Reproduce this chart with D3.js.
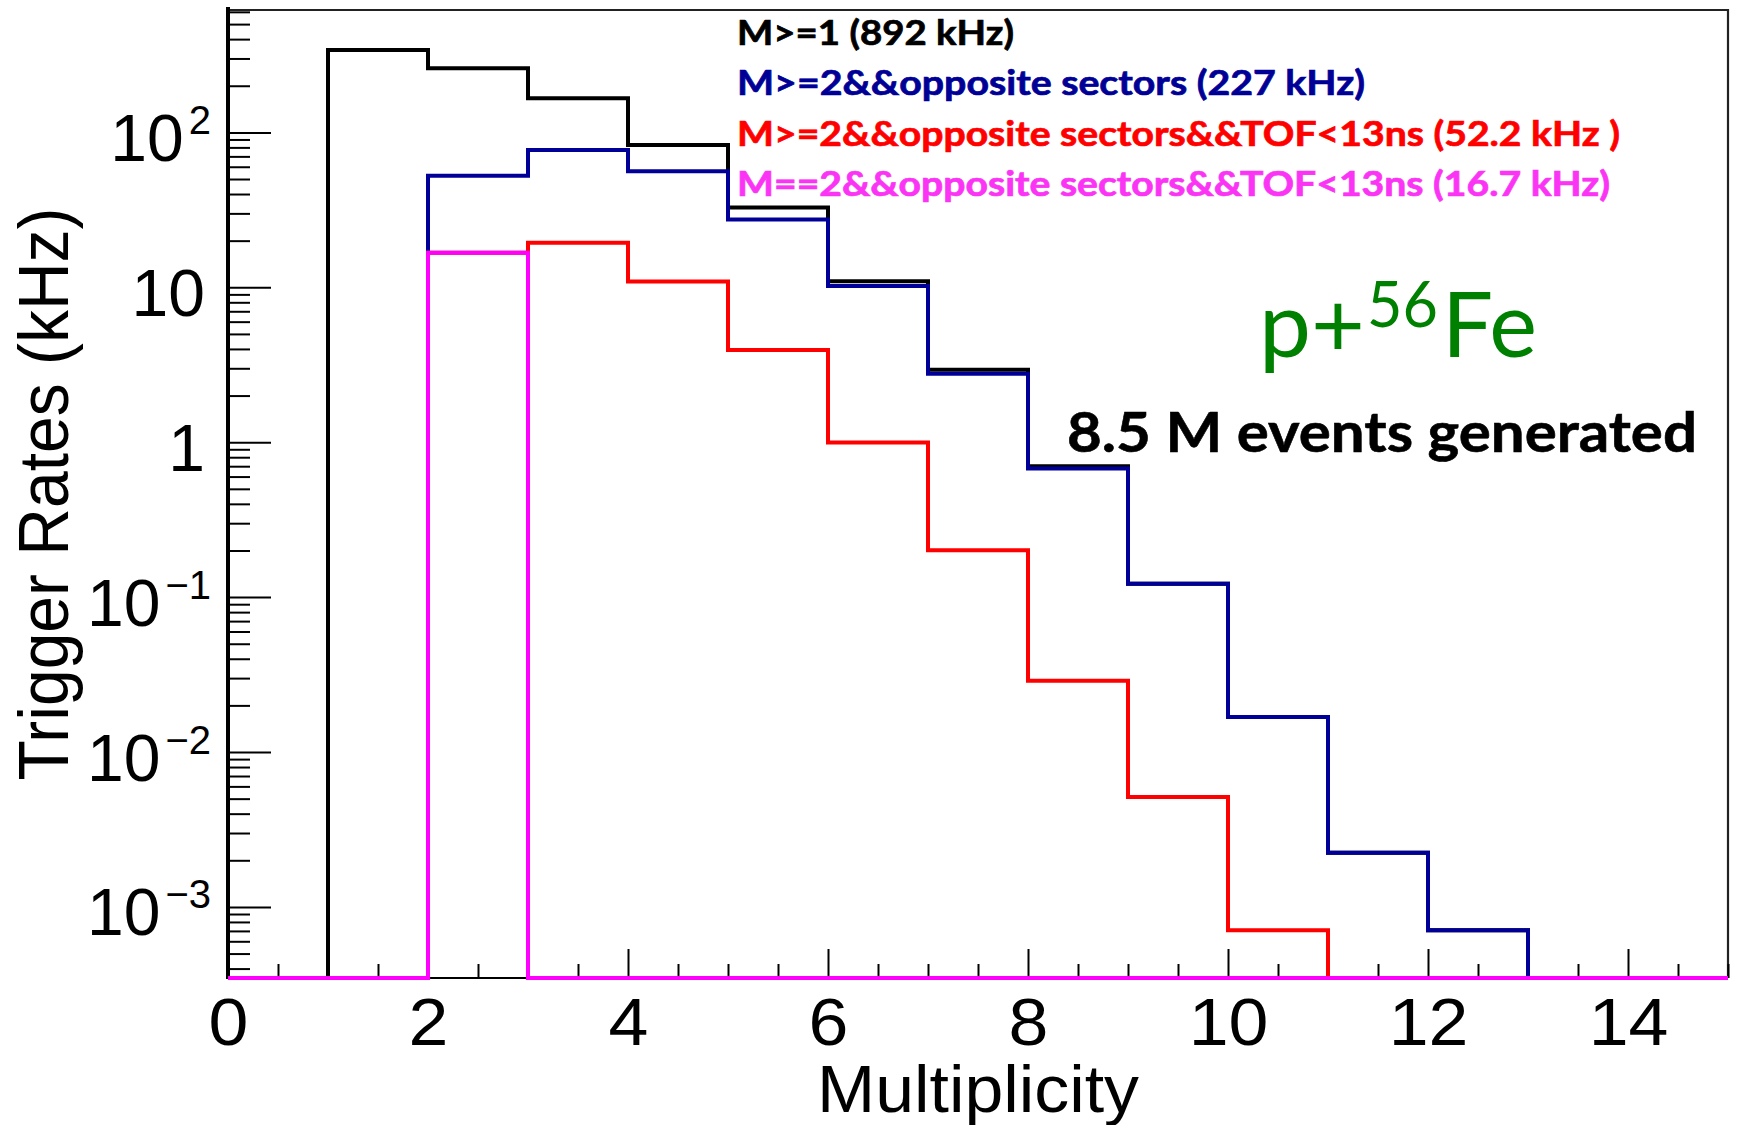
<!DOCTYPE html>
<html>
<head>
<meta charset="utf-8">
<script src="https://cdn.jsdelivr.net/npm/d3@7"></script>
<style>
  html, body { margin: 0; padding: 0; background: #fff; }
  svg { display: block; }
</style>
</head>
<body>
<svg id="chart" width="1741" height="1125"></svg>
<script>
// Multiplicity bins: lower edge of each unit-wide bin
const binEdges = [0, 1, 2, 3, 4, 5, 6, 7, 8, 9, 10, 11, 12, 13, 14];

// Trigger rates per multiplicity bin (kHz)
const rateM1 = [0, 340, 259, 165.8, 82.8, 32.8, 10.95, 2.94, 0.70, 0.122, 0.0168, 0.00224, 0.000708, 0, 0];
const rateOpp = [0, 0, 52.5, 76.9, 56.2, 27.4, 10.2, 2.77, 0.676, 0.122, 0.0168, 0.00224, 0.000708, 0, 0];
const rateOppTof = [0, 0, 16.7, 19.4, 10.9, 3.93, 0.995, 0.201, 0.0288, 0.00513, 0.000708, 0, 0, 0, 0];
const rateM2OppTof = [0, 0, 16.7, 0, 0, 0, 0, 0, 0, 0, 0, 0, 0, 0, 0];

const seriesLabels = [
  "M>=1 (892 kHz)",
  "M>=2&&opposite sectors (227 kHz)",
  "M>=2&&opposite sectors&&TOF<13ns (52.2 kHz )",
  "M==2&&opposite sectors&&TOF<13ns (16.7 kHz)"
];

const xTickValues = [0, 2, 4, 6, 8, 10, 12, 14];
const yTickValues = [1e-3, 1e-2, 1e-1, 1, 10, 100];

const xAxisTitle = "Multiplicity";
const yAxisTitle = "Trigger Rates (kHz)";
const systemLabel = ["p+", "56", "Fe"];
const eventsLabel = "8.5 M events generated";

// ---- layout ----
const frame = { left: 228, right: 1728, top: 10, bottom: 978 };
const xMax = 15;
const yMin = 3.477e-4, yMax = 616.6;
const axisFont = "'Liberation Sans', Arial, Helvetica, sans-serif";

const svg = d3.select("#chart");

const x = d3.scaleLinear().domain([0, xMax]).range([frame.left, frame.right]);
const y = d3.scaleLog().domain([yMin, yMax]).range([frame.bottom, frame.top]);

// ---- frame (top and right edges) ----
svg.append("path")
  .attr("d", `M${frame.left},${frame.top}H${frame.right}V${frame.bottom}`)
  .attr("fill", "none").attr("stroke", "#222").attr("stroke-width", 2.2);

// ---- x axis ----
const xMinor = d3.range(0, xMax + 0.001, 0.5).filter(v => !xTickValues.includes(v));
svg.append("g").attr("transform", `translate(0,${frame.bottom})`)
  .call(d3.axisBottom(x).tickValues(xMinor).tickSize(-14).tickFormat(""))
  .call(g => g.select(".domain").remove())
  .call(g => g.selectAll("line").attr("stroke", "#000").attr("stroke-width", 2));

const xMajorG = svg.append("g").attr("transform", `translate(0,${frame.bottom})`)
  .call(d3.axisBottom(x).tickValues(xTickValues).tickSize(-29).tickPadding(19).tickFormat(d3.format("d")))
  .call(g => g.select(".domain").remove())
  .call(g => g.selectAll("line").attr("stroke", "#000").attr("stroke-width", 2));
xMajorG.selectAll("text")
  .attr("fill", "#000")
  .attr("transform", "scale(1.07,1)")
  .style("font-family", axisFont)
  .style("font-size", "67px");

svg.append("line")
  .attr("x1", frame.left).attr("x2", frame.right)
  .attr("y1", frame.bottom).attr("y2", frame.bottom)
  .attr("stroke", "#000").attr("stroke-width", 2);

// ---- y axis ----
const yMinor = [];
for (let e = -4; e <= 2; e++) {
  for (let k = 2; k <= 9; k++) {
    const v = k * Math.pow(10, e);
    if (v > yMin && v < yMax) yMinor.push(v);
  }
}
svg.append("g").attr("transform", `translate(${frame.left},0)`)
  .call(d3.axisLeft(y).tickValues(yMinor).tickSize(-22).tickFormat(""))
  .call(g => g.select(".domain").remove())
  .call(g => g.selectAll("line").attr("stroke", "#000").attr("stroke-width", 2));

const yMajorG = svg.append("g").attr("transform", `translate(${frame.left},0)`)
  .call(d3.axisLeft(y).tickValues(yTickValues).tickSize(-43).tickPadding(23).tickFormat(""))
  .call(g => g.select(".domain").remove())
  .call(g => g.selectAll("line").attr("stroke", "#000").attr("stroke-width", 2));

yMajorG.selectAll(".tick text").each(function (d) {
  const t = d3.select(this)
    .attr("fill", "#000")
    .attr("dy", null)
    .attr("y", 28)
    .style("font-family", axisFont)
    .style("font-size", "66px");
  t.text(null);
  const exp = Math.round(Math.log10(d));
  if (exp === 0) {
    t.append("tspan").text("1");
  } else if (exp === 1) {
    t.append("tspan").text("10");
  } else {
    t.attr("x", -17);
    t.append("tspan").text("10");
    t.append("tspan")
      .attr("dx", 5).attr("dy", -27)
      .style("font-size", "40px")
      .text(exp < 0 ? "\u2212" + Math.abs(exp) : String(exp));
  }
});

svg.append("line")
  .attr("x1", frame.left).attr("x2", frame.left)
  .attr("y1", 7).attr("y2", frame.bottom + 1)
  .attr("stroke", "#000").attr("stroke-width", 4);

// ---- axis titles ----
svg.append("text")
  .attr("x", (frame.left + frame.right) / 2)
  .attr("y", 1111.5)
  .attr("text-anchor", "middle")
  .attr("textLength", 322)
  .attr("lengthAdjust", "spacingAndGlyphs")
  .style("font-family", axisFont)
  .style("font-size", "66px")
  .text(xAxisTitle);

svg.append("text")
  .attr("transform", `translate(68,${(frame.top + frame.bottom) / 2}) rotate(-90)`)
  .attr("text-anchor", "middle")
  .attr("textLength", 573)
  .attr("lengthAdjust", "spacingAndGlyphs")
  .style("font-family", axisFont)
  .style("font-size", "71px")
  .text(yAxisTitle);

// ---- histograms (outline style, empty bins drawn on the floor) ----
const series = [
  { values: rateM1, color: "#000000" },
  { values: rateOpp, color: "#000099" },
  { values: rateOppTof, color: "#ff0000" },
  { values: rateM2OppTof, color: "#ff00ff" }
];

const yOf = v => (v > yMin ? y(Math.min(v, yMax)) : frame.bottom);
const line = d3.line().x(p => p[0]).y(p => p[1]);

series.forEach(s => {
  const pts = [[x(0), frame.bottom]];
  binEdges.forEach((edge, i) => {
    pts.push([x(edge), yOf(s.values[i])]);
    pts.push([x(edge + 1), yOf(s.values[i])]);
  });
  pts.push([x(xMax), frame.bottom]);
  svg.append("path")
    .attr("d", line(pts))
    .attr("fill", "none")
    .attr("stroke", s.color)
    .attr("stroke-width", 4)
    .attr("stroke-linejoin", "miter")
    .attr("stroke-linecap", "butt");
});

// ---- legend text ----
const legendStyle = [
  { color: "#000000", baseline: 44.5, width: 277 },
  { color: "#000096", baseline: 95, width: 628 },
  { color: "#ff0000", baseline: 145.5, width: 883 },
  { color: "#fb33f5", baseline: 196, width: 873 }
];
seriesLabels.forEach((label, i) => {
  svg.append("text")
    .attr("x", 737)
    .attr("y", legendStyle[i].baseline)
    .attr("fill", legendStyle[i].color)
    .attr("stroke", legendStyle[i].color)
    .attr("stroke-width", 0.7)
    .attr("textLength", legendStyle[i].width)
    .attr("lengthAdjust", "spacingAndGlyphs")
    .style("font-family", "Lato, 'Open Sans', sans-serif")
    .style("font-weight", "700")
    .style("font-size", "35px")
    .text(label);
});

// ---- annotations ----
const green = "#008000";
const annFont = "Lato, 'Open Sans', sans-serif";
svg.append("text")
  .attr("x", 1259).attr("y", 357)
  .attr("fill", green)
  .attr("textLength", 106).attr("lengthAdjust", "spacingAndGlyphs")
  .style("font-family", annFont).style("font-size", "92px")
  .text(systemLabel[0]);
svg.append("text")
  .attr("x", 1367).attr("y", 326.5)
  .attr("fill", green)
  .attr("textLength", 71).attr("lengthAdjust", "spacingAndGlyphs")
  .style("font-family", annFont).style("font-size", "64px")
  .text(systemLabel[1]);
svg.append("text")
  .attr("x", 1442).attr("y", 357)
  .attr("fill", green)
  .attr("textLength", 95).attr("lengthAdjust", "spacingAndGlyphs")
  .style("font-family", annFont).style("font-size", "92px")
  .text(systemLabel[2]);

svg.append("text")
  .attr("x", 1067).attr("y", 451.5)
  .attr("fill", "#000")
  .attr("stroke", "#000")
  .attr("stroke-width", 0.6)
  .attr("textLength", 630).attr("lengthAdjust", "spacingAndGlyphs")
  .style("font-family", annFont).style("font-weight", "700").style("font-size", "56px")
  .text(eventsLabel);
</script>
</body>
</html>
